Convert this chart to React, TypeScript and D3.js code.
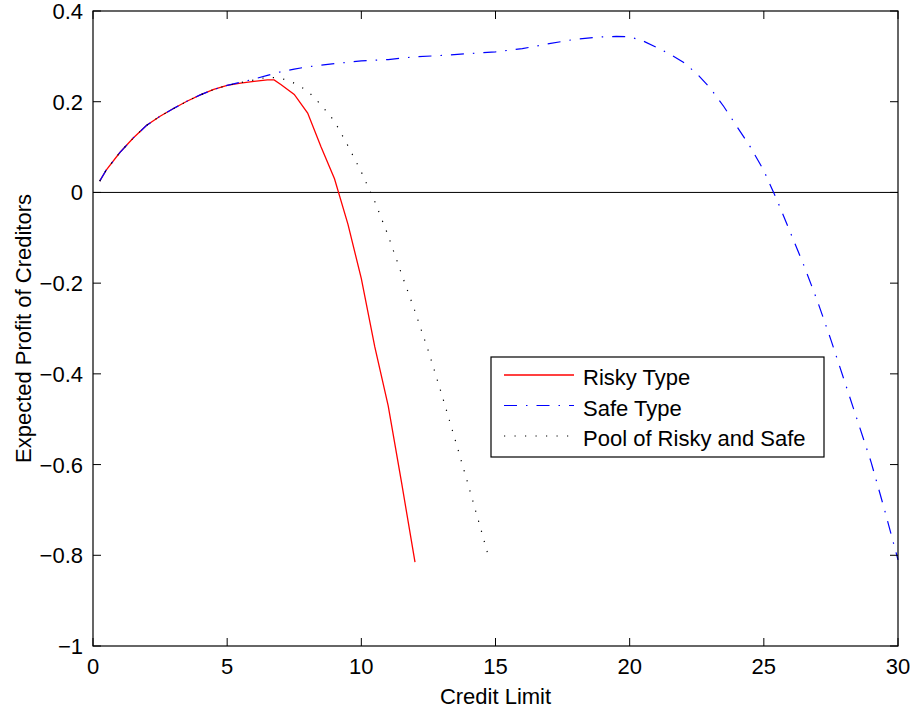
import React, { useEffect, useRef } from 'react';
import * as d3 from 'd3';

// credit limit samples and expected profit
const riskyX = [0.25, 0.5, 1, 1.5, 2, 2.5, 3, 3.5, 4, 4.5, 5, 5.5, 6, 6.5, 6.75, 7, 7.5, 8, 8.5, 9, 9.5, 10, 10.5, 11, 11.5, 12];
const riskyY = [0.025, 0.05, 0.088, 0.12, 0.148, 0.168, 0.185, 0.201, 0.215, 0.227, 0.236, 0.241, 0.245, 0.248, 0.248, 0.238, 0.216, 0.175, 0.1, 0.03, -0.07, -0.19, -0.34, -0.47, -0.64, -0.815];

const safeX = [0.25, 0.5, 1, 1.5, 2, 2.5, 3, 3.5, 4, 4.5, 5, 5.5, 6, 6.5, 7, 7.5, 8, 9, 10, 11, 12, 13, 14, 15, 16, 17, 18, 19, 19.5, 20, 20.5, 21, 21.5, 22, 22.5, 23, 23.5, 24, 24.5, 25, 25.5, 26, 26.5, 27, 27.5, 28, 28.5, 29, 29.5, 30];
const safeY = [0.025, 0.05, 0.088, 0.12, 0.148, 0.168, 0.185, 0.201, 0.215, 0.227, 0.236, 0.243, 0.25, 0.258, 0.266, 0.272, 0.277, 0.284, 0.29, 0.293, 0.299, 0.302, 0.306, 0.31, 0.317, 0.328, 0.338, 0.343, 0.344, 0.343, 0.334, 0.32, 0.305, 0.287, 0.262, 0.23, 0.19, 0.145, 0.1, 0.048, -0.018, -0.09, -0.162, -0.24, -0.325, -0.415, -0.505, -0.595, -0.7, -0.81];

const poolX = [0.25, 0.5, 1, 1.5, 2, 2.5, 3, 3.5, 4, 4.5, 5, 5.5, 6, 6.5, 7, 7.5, 8, 8.5, 9, 9.5, 10, 10.5, 11, 11.5, 12, 12.5, 13, 13.5, 14, 14.5, 14.75];
const poolY = [0.025, 0.05, 0.088, 0.12, 0.148, 0.168, 0.185, 0.201, 0.215, 0.227, 0.236, 0.242, 0.248, 0.254, 0.252, 0.241, 0.224, 0.193, 0.157, 0.103, 0.045, -0.02, -0.095, -0.18, -0.262, -0.35, -0.446, -0.546, -0.648, -0.752, -0.805];

const xTicks = [0, 5, 10, 15, 20, 25, 30];
const yTicks = [0.4, 0.2, 0, -0.2, -0.4, -0.6, -0.8, -1];
const seriesNames = ['Risky Type', 'Safe Type', 'Pool of Risky and Safe'];

const fmt = (t: number) => (Number.isInteger(t) ? String(t) : t.toFixed(1)).replace('-', '\u2212');

const App = () => {
  const ref = useRef<SVGSVGElement>(null);

  useEffect(() => {
    if (!ref.current) return;
    const width = 915;
    const height = 713;
    const left = 93, right = 898, top = 11, bottom = 646;
    const font = '"Liberation Sans", Arial, Helvetica, sans-serif';
    const fs = 22;

    const svg = d3.select(ref.current).attr('width', width).attr('height', height);
    svg.selectAll('*').remove();

    const x = d3.scaleLinear().domain([0, 30]).range([left, right]);
    const y = d3.scaleLinear().domain([-1, 0.4]).range([bottom, top]);

    svg.append('rect').attr('width', width).attr('height', height).attr('fill', 'white');

    // zero line
    svg.append('line')
      .attr('x1', left).attr('x2', right)
      .attr('y1', y(0)).attr('y2', y(0))
      .attr('stroke', '#000').attr('stroke-width', 1);

    const line = d3.line<[number, number]>().x(d => x(d[0])).y(d => y(d[1]));
    const series = [
      { xs: riskyX, ys: riskyY, color: '#ff0000', dash: null, w: 1.3 },
      { xs: safeX, ys: safeY, color: '#0000ff', dash: '13 9 1.5 9', w: 1.2 },
      { xs: poolX, ys: poolY, color: '#000', dash: '1.2 9.3', w: 1.2 },
    ];
    series.forEach(s => {
      const pts = s.xs.map((v, i) => [v, s.ys[i]] as [number, number]);
      const p = svg.append('path')
        .attr('d', line(pts))
        .attr('fill', 'none')
        .attr('stroke', s.color)
        .attr('stroke-width', s.w);
      if (s.dash) p.attr('stroke-dasharray', s.dash);
    });

    // box
    svg.append('rect')
      .attr('x', left).attr('y', top)
      .attr('width', right - left).attr('height', bottom - top)
      .attr('fill', 'none').attr('stroke', '#000').attr('stroke-width', 1.2);

    const tickLen = 8;
    xTicks.forEach(t => {
      svg.append('line').attr('x1', x(t)).attr('x2', x(t)).attr('y1', bottom).attr('y2', bottom - tickLen).attr('stroke', '#000');
      svg.append('line').attr('x1', x(t)).attr('x2', x(t)).attr('y1', top).attr('y2', top + tickLen).attr('stroke', '#000');
      svg.append('text')
        .attr('x', x(t)).attr('y', 674)
        .attr('text-anchor', 'middle')
        .attr('font-family', font).attr('font-size', fs)
        .text(fmt(t));
    });
    yTicks.forEach(t => {
      svg.append('line').attr('x1', left).attr('x2', left + tickLen).attr('y1', y(t)).attr('y2', y(t)).attr('stroke', '#000');
      svg.append('line').attr('x1', right).attr('x2', right - tickLen).attr('y1', y(t)).attr('y2', y(t)).attr('stroke', '#000');
      svg.append('text')
        .attr('x', left - 10).attr('y', y(t) + 8)
        .attr('text-anchor', 'end')
        .attr('font-family', font).attr('font-size', fs)
        .text(fmt(t));
    });

    svg.append('text')
      .attr('x', (left + right) / 2).attr('y', 704)
      .attr('text-anchor', 'middle')
      .attr('font-family', font).attr('font-size', fs)
      .text('Credit Limit');

    svg.append('text')
      .attr('transform', `translate(31,${(top + bottom) / 2}) rotate(-90)`)
      .attr('text-anchor', 'middle')
      .attr('font-family', font).attr('font-size', fs)
      .text('Expected Profit of Creditors');

    // legend
    const lg = svg.append('g');
    lg.append('rect')
      .attr('x', 491).attr('y', 357).attr('width', 333).attr('height', 100)
      .attr('fill', 'white').attr('stroke', '#000').attr('stroke-width', 1.2);
    seriesNames.forEach((name, i) => {
      const yy = 375 + i * 30.5;
      const s = series[i];
      const l = lg.append('line')
        .attr('x1', 504).attr('x2', 574).attr('y1', yy).attr('y2', yy)
        .attr('stroke', s.color).attr('stroke-width', s.w);
      if (s.dash) l.attr('stroke-dasharray', s.dash);
      lg.append('text')
        .attr('x', 583).attr('y', yy + 10)
        .attr('font-family', font).attr('font-size', fs)
        .text(name);
    });
  }, []);

  return <svg ref={ref} style={{ position: 'absolute', left: 0, top: 0 }} />;
};

export default App;
